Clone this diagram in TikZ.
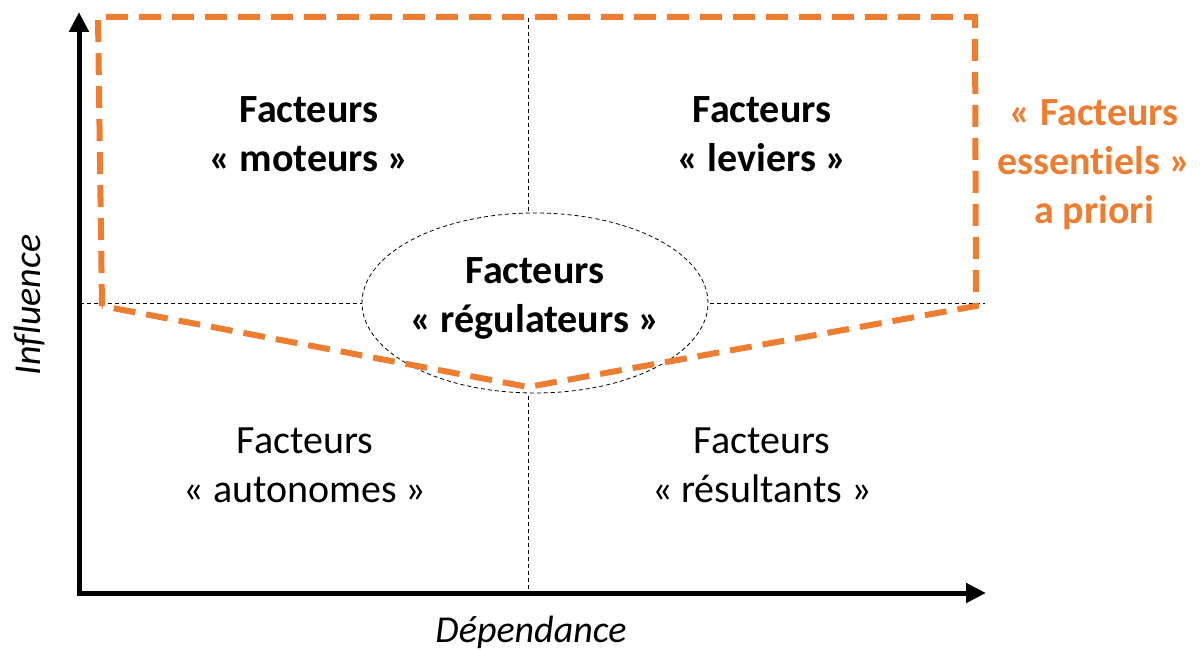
\documentclass[tikz,border=0pt]{standalone}
\usepackage{fontspec}
\setmainfont{Carlito}[Ligatures=NoCommon]
\usetikzlibrary{arrows.meta,shapes.geometric}
\definecolor{orng}{HTML}{ED7D31}
\begin{document}
\begin{tikzpicture}[x=1pt,y=-1pt,
  axis/.style={line width=5pt,-{Triangle[length=20pt,width=19pt]}},
  thin/.style={line width=0.8pt,dash pattern=on 4pt off 3pt},
  zone/.style={orng,line width=6pt,dash pattern=on 22pt off 11pt,line join=miter},
  lbl/.style={align=center,font=\fontsize{40}{49}\selectfont,inner sep=0pt},
  lblb/.style={lbl,font=\fontsize{40}{49}\selectfont\bfseries}]
\useasboundingbox (0,0) rectangle (1203,650);
\coordinate (O) at (79,593);
\coordinate (Ytop) at (79,12);
\coordinate (Xend) at (986,593);
% dashed quadrant lines
\coordinate (H1) at (80,303);
\coordinate (H2) at (985,303);
\coordinate (V1) at (528,18);
\coordinate (V2) at (528,593);
\draw[thin] (H1) -- (H2);
\draw[thin] (V1) -- (V2);
\node[ellipse,draw,thin,fill=white,minimum width=346pt,minimum height=180pt,inner sep=0pt] (reg) at (535,303) {};
\node[lblb] (regt) at (535,298) {Facteurs\\« régulateurs »};
% axes
\draw[axis] (O) -- (Ytop);
\draw[axis] ([xshift=-2.5pt]O) -- (Xend);
% orange zone
\coordinate (Z1) at (98,17);
\coordinate (Z2) at (975,17);
\coordinate (Z3) at (976,306);
\coordinate (Z4) at (528,387);
\coordinate (Z5) at (102,306);
\draw[zone] (Z5) -- (Z1) -- (Z2) -- (Z3) -- (Z4) -- cycle;
% labels
\node[lblb] (mot) at (309,134) {Facteurs\\« moteurs »};
\node[lblb] (lev) at (762,134) {Facteurs\\« leviers »};
\node[lbl] (aut) at (305,465) {Facteurs\\« autonomes »};
\node[lbl] (res) at (762,465) {Facteurs\\« résultants »};
\node[lblb,text=orng,font=\fontsize{40}{49}\selectfont\bfseries] (ess) at (1094,165) {« Facteurs\\essentiels »\\a priori};
\node[lbl,font=\fontsize{38}{46}\selectfont\itshape,rotate=90] (inf) at (30,305) {Influence};
\node[lbl,font=\fontsize{38}{46}\selectfont\itshape] (dep) at (531,632) {Dépendance};
\end{tikzpicture}
\end{document}
